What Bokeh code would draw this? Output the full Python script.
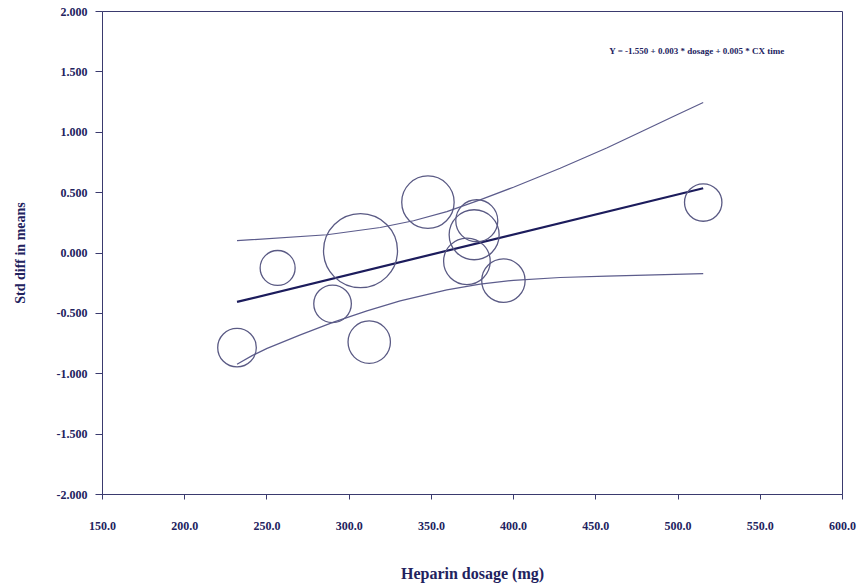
from bokeh.plotting import figure
from bokeh.models import FixedTicker, NumeralTickFormatter, Label, Range1d
from bokeh.embed import file_html
from bokeh.resources import INLINE

# ---- data ----
dosage = [231.8, 256.5, 289.9, 306.9, 312.2, 347.9, 377.6, 376.0, 371.6, 393.8, 515.3]
std_diff = [-0.784, -0.124, -0.421, 0.019, -0.738, 0.421, 0.267, 0.151, -0.069, -0.229, 0.418]
bubble_radius = [19.3, 17.5, 18.8, 37.0, 21.2, 26.2, 21.0, 25.0, 23.3, 21.7, 18.7]

reg_x = [231.8, 515.3]
reg_y = [-0.405, 0.536]

upper_x = [231.8, 286.5, 318.9, 339.1, 359.4, 379.6, 399.9, 428.3, 456.6, 476.9, 497.1, 515.3]
upper_y = [0.102, 0.151, 0.211, 0.267, 0.343, 0.440, 0.545, 0.702, 0.870, 1.000, 1.130, 1.246]

lower_x = [231.8, 241.0, 250.1, 270.3, 290.5, 310.8, 331.0, 359.4, 379.6, 399.9, 428.3, 456.6, 515.3]
lower_y = [-0.922, -0.850, -0.790, -0.678, -0.572, -0.479, -0.397, -0.305, -0.258, -0.226, -0.203, -0.192, -0.171]

x_ticks = [150, 200, 250, 300, 350, 400, 450, 500, 550, 600]
y_ticks = [-2.0, -1.5, -1.0, -0.5, 0.0, 0.5, 1.0, 1.5, 2.0]

equation = "Y = -1.550 + 0.003 * dosage + 0.005 * CX time"

NAVY = "#22225e"
AXIS = "#3a3a6e"
FONT = "Liberation Serif"

W, H = 860, 584
FL, FR, FT, FB = 102, 842, 11, 495   # frame edges on the canvas
p = figure(width=W, height=H, output_backend="svg", toolbar_location=None,
           x_range=Range1d(150, 600), y_range=Range1d(-2, 2),
           min_border_left=FL, min_border_right=W - FR,
           min_border_top=FT, min_border_bottom=H - FB)
p.grid.visible = False
p.background_fill_color = "white"
p.border_fill_color = "white"
p.outline_line_color = AXIS
p.outline_line_width = 1

# confidence curves
p.line(upper_x, upper_y, line_color="#5c5c8c", line_width=1.2)
p.line(lower_x, lower_y, line_color="#5c5c8c", line_width=1.2)
# regression line
p.line(reg_x, reg_y, line_color="#1c1c5c", line_width=2.2)
# bubbles
p.circle(dosage, std_diff, radius=bubble_radius, radius_units="screen",
         fill_color=None, line_color="#5a5a84", line_width=1.3)

for ax in (p.xaxis[0], p.yaxis[0]):
    ax.axis_line_color = AXIS
    ax.major_tick_line_color = AXIS
    ax.minor_tick_line_color = None
    ax.major_tick_in = 0
    ax.major_label_text_font = FONT
    ax.major_label_text_font_style = "bold"
    ax.major_label_text_font_size = "12px"
    ax.major_label_text_color = NAVY
    ax.axis_label_text_font = FONT
    ax.axis_label_text_font_style = "bold"
    ax.axis_label_text_color = NAVY

p.xaxis.ticker = FixedTicker(ticks=x_ticks)
p.xaxis.formatter = NumeralTickFormatter(format="0.0")
p.xaxis.major_tick_out = 5
p.xaxis.major_label_standoff = 22
p.xaxis.axis_label = "Heparin dosage (mg)"
p.xaxis.axis_label_text_font_size = "16px"
p.xaxis.axis_label_standoff = 32

p.yaxis.ticker = FixedTicker(ticks=y_ticks)
p.yaxis.formatter = NumeralTickFormatter(format="0.000")
p.yaxis.major_tick_out = 7
p.yaxis.major_label_standoff = 8
p.yaxis.axis_label = "Std diff in means"
p.yaxis.axis_label_text_font_size = "14px"
p.yaxis.axis_label_standoff = 26

eq = Label(x=511.5, y=1.672, text=equation, text_align="center",
           text_baseline="middle", text_font=FONT, text_font_style="bold",
           text_font_size="9px", text_color=NAVY)
p.add_layout(eq)

open("out.html", "w").write(file_html(p, INLINE))
